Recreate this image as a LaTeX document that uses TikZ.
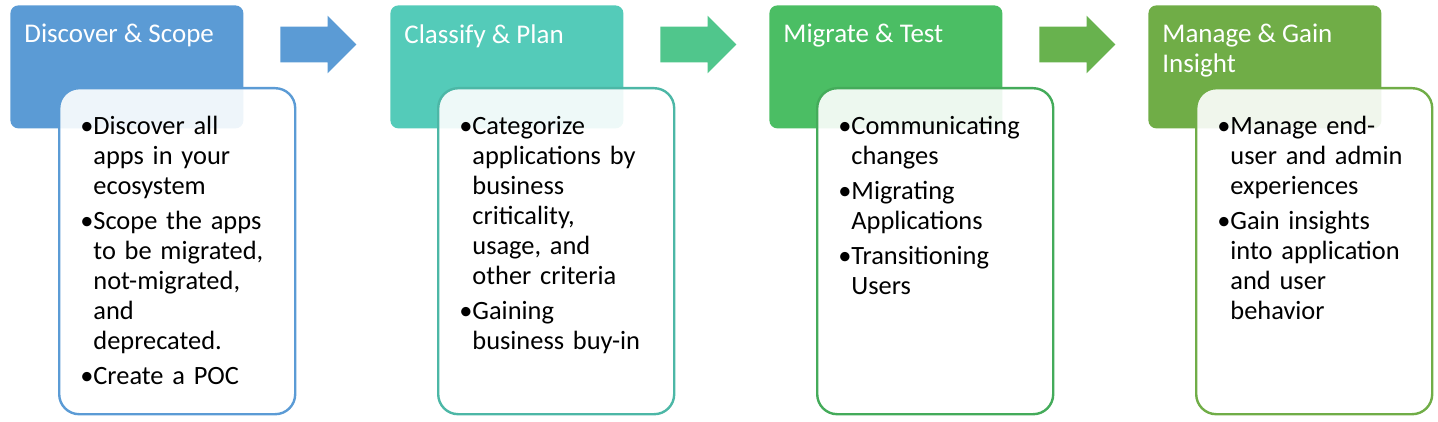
\documentclass[tikz,border=0pt]{standalone}
\usepackage{fontspec}
\setmainfont{Carlito}
\usetikzlibrary{shapes.arrows}
\definecolor{scopeblue}{RGB}{91,155,213}
\definecolor{planteal}{RGB}{84,203,185}
\definecolor{testgreen}{RGB}{75,190,100}
\definecolor{gaingreen}{RGB}{112,173,71}
\definecolor{flowteal}{RGB}{80,198,140}
\definecolor{flowgreen}{RGB}{104,178,78}
\newcommand{\pitem}[1]{\par\hangindent=6.5pt\hangafter=1\noindent\makebox[6.5pt][l]{\textbullet}#1\par}
\tikzset{
  header/.style={rectangle, rounded corners=4pt, minimum width=116.5pt, minimum height=61.5pt, anchor=north west, inner sep=0pt},
  stepbody/.style={draw, line width=1.2pt, fill=white, fill opacity=0.9, rounded corners=10pt, minimum width=118pt, minimum height=163pt, anchor=north west, inner sep=0pt},
  headtext/.style={anchor=north west, inner sep=0pt, text=white, align=left, font=\fontsize{13.5}{15}\selectfont},
  bodytext/.style={anchor=north west, inner sep=0pt, text width=106pt, align=left, font=\fontsize{13.2}{15}\selectfont\setlength{\parskip}{2.5pt}},
  flow/.style={single arrow, single arrow head extend=5.5pt, inner xsep=0pt, inner ysep=8.75pt, minimum height=38pt, anchor=west}
}
\begin{document}
\begin{tikzpicture}[x=0.5pt,y=-0.5pt]
\useasboundingbox (0,0) rectangle (1438,422);

% headers
\node [header, fill=scopeblue] (h1) at (10,5) {};
\node [header, fill=planteal] (h2) at (390,5) {};
\node [header, fill=testgreen] (h3) at (769,5) {};
\node [header, fill=gaingreen] (h4) at (1148,5) {};

% arrows between stages
\node [flow, fill=scopeblue] (ar1) at (280,44.5) {};
\node [flow, fill=flowteal] (ar2) at (660,44.5) {};
\node [flow, fill=flowgreen] (ar3) at (1039,44.5) {};

% bodies
\node [stepbody, draw=scopeblue] (b1) at (58,87) {};
\node [stepbody, draw=planteal!90!black] (b2) at (437,87) {};
\node [stepbody, draw=testgreen!90!black] (b3) at (816,87) {};
\node [stepbody, draw=gaingreen] (b4) at (1195,87) {};

% header texts
\node [headtext] (t1) at (24,24) {Discover \& Scope};
\node [headtext] (t2) at (404,24) {Classify \& Plan};
\node [headtext] (t3) at (783,24) {Migrate \& Test};
\node [headtext] (t4) at (1162,24) {Manage \& Gain\\Insight};

% body texts
\node [bodytext] (l1) at (80,99) {\pitem{Discover all\newline apps in your\newline ecosystem}
\pitem{Scope the apps\newline to be migrated,\newline not-migrated,\newline and\newline deprecated.}
\pitem{Create a POC}};
\node [bodytext] (l2) at (459,99) {\pitem{Categorize\newline applications by\newline business\newline criticality,\newline usage, and\newline other criteria}
\pitem{Gaining\newline business buy-in}};
\node [bodytext] (l3) at (838,99) {\pitem{Communicating\newline changes}
\pitem{Migrating\newline Applications}
\pitem{Transitioning\newline Users}};
\node [bodytext] (l4) at (1217,99) {\pitem{Manage end-\newline user and admin\newline experiences}
\pitem{Gain insights\newline into application\newline and user\newline behavior}};
\end{tikzpicture}
\end{document}
